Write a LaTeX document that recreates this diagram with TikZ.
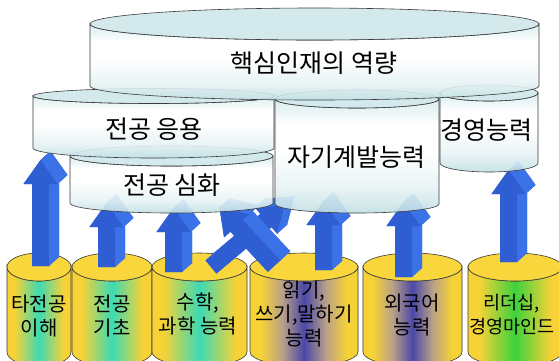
\documentclass[tikz,border=0pt]{standalone}
\usepackage{fontspec}
\newfontfamily\kr{Noto Sans CJK KR}
\usetikzlibrary{calc}
\definecolor{ylw}{HTML}{F6D236}
\definecolor{ytop}{HTML}{F8D63C}
\definecolor{teal1}{HTML}{3CDAB4}
\definecolor{purp}{HTML}{4A48A8}
\definecolor{mauve}{HTML}{B8A088}
\definecolor{grn}{HTML}{3CD23C}
\definecolor{cyantop}{HTML}{CFE7EB}
\definecolor{cyanA}{HTML}{C2E0E4}
\definecolor{cyanB}{HTML}{E6F3F5}
\definecolor{cyanC}{HTML}{D4EBEE}
\definecolor{afront}{HTML}{2E5ED2}
\definecolor{aside}{HTML}{3C72E8}
\definecolor{edge}{HTML}{3A3A3A}
\pgfdeclarehorizontalshading{tealband}{100bp}{color(0bp)=(ylw); color(31bp)=(ylw); color(50bp)=(teal1); color(69bp)=(ylw); color(100bp)=(ylw)}
\pgfdeclarehorizontalshading{purpband}{100bp}{color(0bp)=(ylw); color(30bp)=(ylw); color(40bp)=(mauve); color(50bp)=(purp); color(60bp)=(mauve); color(70bp)=(ylw); color(100bp)=(ylw)}
\pgfdeclarehorizontalshading{grnband}{100bp}{color(0bp)=(ylw); color(31bp)=(ylw); color(50bp)=(grn); color(69bp)=(ylw); color(100bp)=(ylw)}
\pgfdeclareverticalshading{upshade}{100bp}{color(0bp)=(cyanA); color(25bp)=(cyanA); color(36bp)=(cyanB); color(52bp)=(white); color(64bp)=(white); color(75bp)=(cyanC); color(100bp)=(cyanC)}
% cylinder: cx rx topy topry boty botry bodystyle topstyle
\newcommand\cyl[8]{%
  \path[#7] (#1-#2,#3) -- (#1-#2,#5) arc[start angle=180,end angle=0,x radius=#2,y radius=#6]
     -- (#1+#2,#3) arc[start angle=0,end angle=180,x radius=#2,y radius=#4] -- cycle;
  \path[#8] (#1,#3) ellipse[x radius=#2,y radius=#4];
}
% block arrow: bx by rotation length shaftlength
\newcommand\barrow[5]{%
  \begin{scope}[shift={(#1,#2)},rotate=#3]
    \coordinate (q1) at (-8.5,0);
    \coordinate (q2) at (-8.5,-#5);
    \coordinate (q3) at (-17,-#5);
    \coordinate (q4) at (0,-#4);
    \coordinate (q5) at (17,-#5);
    \coordinate (q6) at (8.5,-#5);
    \coordinate (q7) at (8.5,0);
  \end{scope}
  \fill[aside] ($(q1)+(10,-9)$) -- ($(q2)+(10,-9)$) -- ($(q3)+(10,-9)$) -- ($(q4)+(10,-9)$) -- ($(q5)+(10,-9)$) -- ($(q6)+(10,-9)$) -- ($(q7)+(10,-9)$) -- cycle;
  \foreach \a/\b in {q1/q2,q2/q3,q3/q4,q4/q5,q5/q6,q6/q7,q7/q1}
    \fill[aside] (\a) -- (\b) -- ($(\b)+(10,-9)$) -- ($(\a)+(10,-9)$) -- cycle;
  \fill[afront] (q1) -- (q2) -- (q3) -- (q4) -- (q5) -- (q6) -- (q7) -- cycle;
}
\tikzset{
  lowbody/.style={draw=edge,line width=0.6pt,shading=#1},
  lowtop/.style={draw=edge,line width=0.6pt,fill=ytop},
  upbody/.style={draw=edge,line width=0.6pt,shading=upshade,fill opacity=0.9},
  uptop/.style={draw=edge,line width=0.6pt,fill=cyantop,fill opacity=0.9},
  lowlabel/.style={align=center,font=\kr\fontsize{20}{24}\selectfont,text=black},
  uplabel/.style={font=\kr\fontsize{25}{28}\selectfont,text=black},
}
\begin{document}
\begin{tikzpicture}[x=1pt,y=-1pt]
\useasboundingbox (0,0) rectangle (559,360);
\clip (0,0) rectangle (559,360);
\fill[white] (0,0) rectangle (559,360);
% bottom cylinders
\cyl{39}{32}{267}{14}{352}{14}{lowbody=tealband}{lowtop}
\cyl{112}{40}{267}{14}{352}{14}{lowbody=tealband}{lowtop}
\cyl{199.5}{47.5}{267}{14}{352}{14}{lowbody=tealband}{lowtop}
\cyl{304}{54}{267}{14}{352}{14}{lowbody=purpband}{lowtop}
\cyl{412.5}{49.5}{267}{14}{352}{14}{lowbody=purpband}{lowtop}
\cyl{515}{47}{267}{14}{352}{14}{lowbody=grnband}{lowtop}
% arrows
\barrow{211}{267}{-50}{96}{72}
\barrow{274}{266}{43}{80}{55}
\barrow{40.5}{266}{0}{106}{82}
\barrow{106.5}{267}{0}{64}{40}
\barrow{173.5}{272}{0}{64}{40}
\barrow{323.5}{270}{0}{69}{45}
\barrow{403.5}{277}{0}{75}{51}
\barrow{508.5}{262}{0}{92}{68}
% upper cylinders
\cyl{171.5}{101.5}{156}{10}{203}{10}{upbody}{uptop}
\cyl{153.5}{120.5}{96}{7.5}{148}{10}{upbody}{uptop}
\cyl{357}{82}{99}{9}{204}{9}{upbody}{uptop}
\cyl{489}{49}{93}{8}{163}{9}{upbody}{uptop}
\cyl{314.5}{224.5}{24}{16}{86}{14}{upbody}{uptop}
% labels
\node[uplabel] (core) at (314,63) {핵심인재의 역량};
\node[uplabel] (apply) at (154,129) {전공 응용};
\node[uplabel] (deep) at (172,185) {전공 심화};
\node[uplabel] (self) at (356,157) {자기계발능력};
\node[uplabel] (mgmt) at (486,130) {경영능력};
\node[lowlabel] (l1) at (39,316) {타전공\\이해};
\node[lowlabel] (l2) at (112,316) {전공\\기초};
\node[lowlabel] (l3) at (198,314) {수학,\\과학 능력};
\node[lowlabel] (l4) at (304,314) {읽기,\\쓰기,말하기\\능력};
\node[lowlabel] (l5) at (412,315) {외국어\\능력};
\node[lowlabel,font=\kr\fontsize{18.5}{24}\selectfont] (l6) at (512,315) {리더십,\\경영마인드};
\end{tikzpicture}
\end{document}
